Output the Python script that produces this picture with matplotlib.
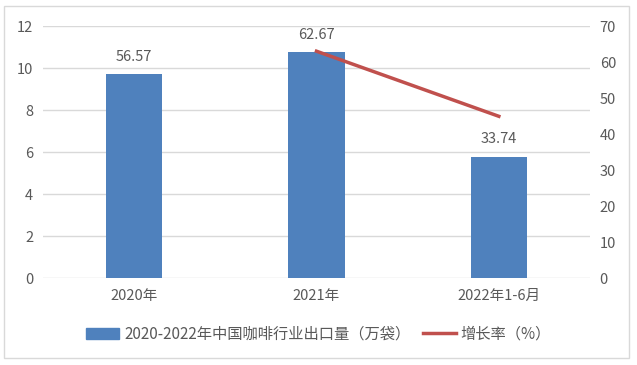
import numpy as np
import matplotlib
matplotlib.use('Agg')
import matplotlib.pyplot as plt
from matplotlib.patches import Rectangle

plt.rcParams['font.family'] = ['Noto Sans CJK SC', 'DejaVu Sans']

categories = ['2020年', '2021年', '2022年1-6月']
exports = [56.57, 62.67, 33.74]          # 万袋, right axis
growth_cats = ['2021年', '2022年1-6月']
growth = [10.8, 7.7]                      # %, left axis

bar_color = '#4f81bd'
line_color = '#c0504d'
text_color = '#595959'
grid_color = '#d9d9d9'

fig = plt.figure(figsize=(6.37, 3.65), dpi=100)
ax = fig.add_axes([43/637, 1-278/365, (590-43)/637, (278-26)/365])
ax2 = ax.twinx()

x = np.arange(len(categories))
ax2.bar(x, exports, width=0.31, color=bar_color, zorder=2)
for xi, v in zip(x, exports):
    ax2.text(xi, v + 3, f'{v:.2f}', ha='center', va='bottom', fontsize=10.5, color=text_color)

# growth line lives on the left scale but is drawn above the bars
gx = [categories.index(c) for c in growth_cats]
ax2.plot(gx, growth, color=line_color, lw=2.5, zorder=3, transform=ax.transData)

ax.set_ylim(0, 12)
ax.set_yticks(range(0, 13, 2))
ax2.set_ylim(0, 70)
ax2.set_yticks(range(0, 71, 10))
ax.set_xlim(-0.5, 2.5)
ax.set_xticks(x)
ax.set_xticklabels(categories)

# gridlines follow the left axis, behind the bars
ax.grid(axis='y', color=grid_color, lw=1)
ax.set_axisbelow(True)

for a in (ax, ax2):
    for s in a.spines.values():
        s.set_visible(False)
    a.tick_params(length=0, colors=text_color, labelsize=10.5)
ax.tick_params(axis='y', pad=7)
ax2.tick_params(axis='y', pad=7)
ax.tick_params(axis='x', pad=8)

handles = [Rectangle((0, 0), 1, 1, color=bar_color),
           plt.Line2D([], [], color=line_color, lw=2.5)]
labels = ['2020-2022年中国咖啡行业出口量（万袋）', '增长率（%）']
fig.legend(handles, labels, loc='center', bbox_to_anchor=(0.5, 1-334/365), ncol=2,
           frameon=False, fontsize=11, labelcolor=text_color,
           handlelength=2.2, handleheight=0.7, columnspacing=0.8, handletextpad=0.3)

fig.add_artist(Rectangle((4/637, 1-358/365), 625/637, 352/365, transform=fig.transFigure,
                         fill=False, edgecolor='#d9d9d9', lw=1))

fig.savefig('out.png', dpi=100)
